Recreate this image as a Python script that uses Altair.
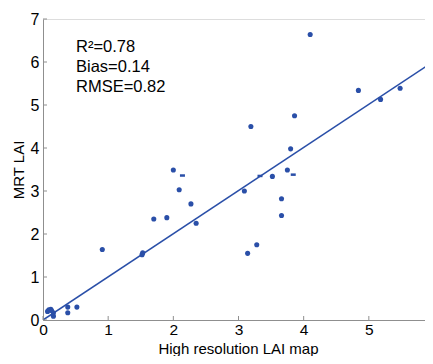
import altair as alt
import pandas as pd

# Scatter points (High resolution LAI map vs MRT LAI)
pts_x = [4.10, 4.84, 5.18, 5.48, 3.86, 3.19, 3.80, 3.75, 3.52, 3.09, 3.66, 3.66,
         3.28, 3.14, 2.00, 2.09, 2.27, 2.35, 1.70, 1.90, 0.91, 1.53, 1.52,
         0.52, 0.38, 0.38, 0.09, 0.12, 0.07, 0.16, 0.16, 0.13]
pts_y = [6.64, 5.34, 5.13, 5.39, 4.75, 4.50, 3.98, 3.49, 3.34, 3.00, 2.82, 2.43,
         1.75, 1.55, 3.49, 3.03, 2.70, 2.25, 2.35, 2.38, 1.64, 1.56, 1.52,
         0.30, 0.30, 0.17, 0.24, 0.25, 0.20, 0.17, 0.09, 0.22]

# Small flattened marks
dash_x = [2.14, 3.33, 3.84]
dash_y = [3.36, 3.35, 3.38]

# Fitted line
fit_x = [0.0, 6.0]
fit_y = [0.0, 6.02]

stats = ["R\u00b2=0.78", "Bias=0.14", "RMSE=0.82"]

x_ticks = [0, 1, 2, 3, 4, 5, 6]
y_ticks = [0, 1, 2, 3, 4, 5, 6, 7]

BLUE = "#2a4fa8"
GRAY = "#8f8f8f"
FONT = "Liberation Sans"
W, H = 382, 301      # visible plot area (svg ends at the window edge)
FULL_W = 391          # full x range (0..6), partly beyond the window like the reference

pts = pd.DataFrame({"x": pts_x, "y": pts_y})
dashes = pd.DataFrame({"x": dash_x, "y": dash_y})
fit = pd.DataFrame({"x": fit_x, "y": fit_y})
xt = pd.DataFrame({"v": x_ticks})
yt = pd.DataFrame({"v": y_ticks})

xs = alt.Scale(domain=[0, 6], nice=False, zero=False, range=[0, FULL_W])
ys = alt.Scale(domain=[0, 7], nice=False, zero=False)

xaxis = alt.Axis(values=x_ticks, ticks=False, grid=False, domainColor=GRAY, format="d",
                 labelFont=FONT, labelFontSize=15.5, labelColor="black", labelPadding=2,
                 title="High resolution LAI map", titleFont=FONT, titleFontSize=15,
                 titleFontWeight="normal", titleColor="black",
                 titleBaseline="alphabetic", titleY=33, titleX=195,
                 labelFlush=False, labelOverlap=False)
yaxis = alt.Axis(values=y_ticks, ticks=False, grid=False, domainColor=GRAY, format="d",
                 labelFont=FONT, labelFontSize=16, labelColor="black", labelPadding=4,
                 title="MRT LAI", titleFont=FONT, titleFontSize=15,
                 titleFontWeight="normal", titleColor="black", titlePadding=4,
                 labelFlush=False, labelOverlap=False)

line = alt.Chart(fit).mark_line(color=BLUE, strokeWidth=1.6, clip=True).encode(
    x=alt.X("x:Q", scale=xs, axis=xaxis),
    y=alt.Y("y:Q", scale=ys, axis=yaxis),
)

dots = alt.Chart(pts).mark_circle(color=BLUE, size=26, opacity=1).encode(
    x=alt.X("x:Q", scale=xs), y=alt.Y("y:Q", scale=ys)
)

dash_marks = alt.Chart(dashes).mark_point(shape="stroke", color=BLUE, strokeWidth=2.5,
                                          size=25, opacity=1).encode(
    x=alt.X("x:Q", scale=xs), y=alt.Y("y:Q", scale=ys)
)

xtick_marks = alt.Chart(xt).mark_rule(color=GRAY, strokeWidth=1).encode(
    x=alt.X("v:Q", scale=xs), y=alt.value(H), y2=alt.value(H - 4)
)
ytick_marks = alt.Chart(yt).mark_rule(color=GRAY, strokeWidth=1).encode(
    y=alt.Y("v:Q", scale=ys), x=alt.value(0), x2=alt.value(4)
)

label = alt.Chart(pd.DataFrame({"a": [0]})).mark_text(
    text=stats, font=FONT, fontSize=16.5, color="black", align="left",
    baseline="alphabetic", lineHeight=20
).encode(x=alt.value(33), y=alt.value(33))

chart = alt.layer(line, xtick_marks, ytick_marks, dots, dash_marks, label).properties(
    width=W, height=H,
    autosize=alt.AutoSizeParams(type="none"),
    padding={"left": 35, "top": 11, "right": 0, "bottom": 36},
).configure_view(stroke=None).configure(background="white")

chart.save("out.html", embed_options={"renderer": "svg", "actions": False})
